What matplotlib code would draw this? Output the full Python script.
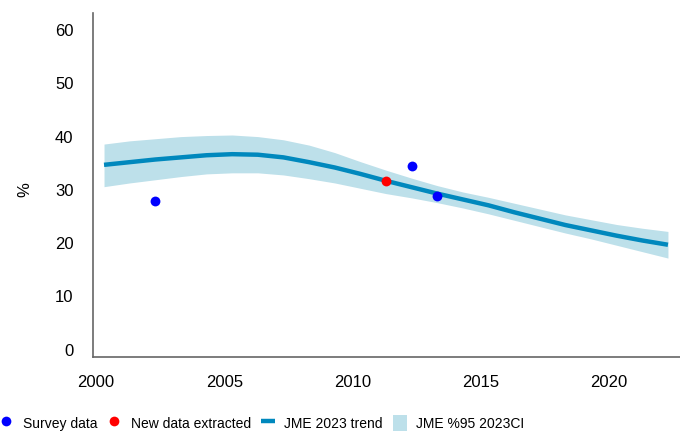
import matplotlib
matplotlib.use("Agg")
import matplotlib.pyplot as plt
import matplotlib.transforms as mtransforms
from matplotlib.lines import Line2D
from matplotlib.patches import Patch

plt.rcParams['font.family'] = ['Liberation Sans', 'DejaVu Sans']

# JME 2023 modelled trend and 95% interval, by year
years = list(range(2000, 2023))
trend = [34.7, 35.2, 35.7, 36.1, 36.5, 36.7, 36.6, 36.1, 35.2, 34.2, 33.0,
         31.7, 30.5, 29.3, 28.2, 27.1, 25.8, 24.6, 23.4, 22.4, 21.4, 20.5, 19.7]
ci_upper = [38.6, 39.2, 39.6, 40.0, 40.2, 40.3, 40.0, 39.4, 38.4, 37.0, 35.3,
            33.7, 32.2, 30.8, 29.6, 28.6, 27.5, 26.4, 25.3, 24.4, 23.5, 22.8, 22.2]
ci_lower = [30.6, 31.3, 31.9, 32.5, 33.0, 33.2, 33.2, 32.8, 32.1, 31.3, 30.3,
            29.3, 28.5, 27.6, 26.6, 25.5, 24.3, 23.1, 21.9, 20.8, 19.6, 18.4, 17.2]

survey_years = [2002, 2012, 2013]
survey_vals = [28.0, 34.4, 28.9]
new_years = [2011]
new_vals = [31.7]

line_col = '#0088bd'
band_col = '#bde0ea'

fig = plt.figure(figsize=(6.8, 4.32), dpi=100)
ax = fig.add_axes([93 / 680, 75 / 432, 587 / 680, 344 / 432])

ax.fill_between(years, ci_lower, ci_upper, color=band_col, lw=0, zorder=1)
ax.plot(years, trend, color=line_col, lw=3.2, zorder=2, solid_capstyle='butt')
ax.scatter(survey_years, survey_vals, s=50, color='#0000ff', zorder=3, lw=0)
ax.scatter(new_years, new_vals, s=50, color='#ff0000', zorder=3, lw=0)

ax.set_xlim(1999.57, 2022.47)
ax.set_ylim(-1.37, 63.2)
ax.set_xticks([2000, 2005, 2010, 2015, 2020])
ax.set_yticks([0, 10, 20, 30, 40, 50, 60])
ax.tick_params(axis='both', length=0, labelsize=12)
ax.tick_params(axis='y', pad=14)
ax.tick_params(axis='x', pad=13)
shift = mtransforms.ScaledTranslation(-8 / 100, 0, fig.dpi_scale_trans)
for lab in ax.get_xticklabels():
    lab.set_transform(lab.get_transform() + shift)

for side in ['top', 'right']:
    ax.spines[side].set_visible(False)
for side in ['left', 'bottom']:
    ax.spines[side].set_color('#666666')
    ax.spines[side].set_linewidth(1.2)

fig.text(25 / 680, 1 - 190 / 432, '%', rotation=90, ha='center', va='center', fontsize=12)

handles = [
    Line2D([], [], ls='none', marker='o', markersize=7, color='#0000ff', mec='none'),
    Line2D([], [], ls='none', marker='o', markersize=7, color='#ff0000', mec='none'),
    Line2D([], [], color=line_col, lw=3.2, solid_capstyle='butt'),
    Patch(facecolor=band_col, edgecolor='none'),
]
labels = ['Survey data', 'New data extracted', 'JME 2023 trend', 'JME %95 2023CI']
fig.legend(handles, labels, loc='center', bbox_to_anchor=(262 / 680, 1 - 423 / 432),
           ncol=4, frameon=False, fontsize=10, handlelength=1.0, handleheight=1.5,
           handletextpad=0.7, columnspacing=0.7, borderaxespad=0)

fig.savefig('out.png', dpi=100)
